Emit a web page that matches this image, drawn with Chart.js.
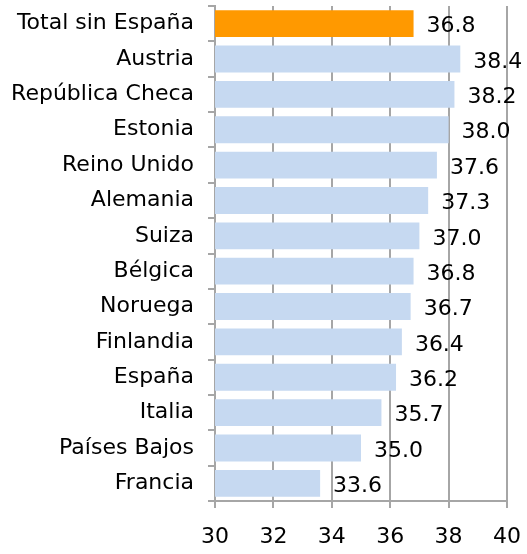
<!DOCTYPE html>
<html>
<head>
<meta charset="utf-8">
<script src="https://cdn.jsdelivr.net/npm/chart.js@4/dist/chart.umd.min.js"></script>
<style>
html,body{margin:0;padding:0;background:#fff;}
#wrap{width:527px;height:554px;}
</style>
</head>
<body>
<div id="wrap"><canvas id="c" width="527" height="554"></canvas></div>
<script>
const categories = ["Total sin España","Austria","República Checa","Estonia","Reino Unido","Alemania","Suiza","Bélgica","Noruega","Finlandia","España","Italia","Países Bajos","Francia"];
const values = [36.8,38.4,38.2,38.0,37.6,37.3,37.0,36.8,36.7,36.4,36.2,35.7,35.0,33.6];
const barColors = ["#FF9900","#C6D9F1","#C6D9F1","#C6D9F1","#C6D9F1","#C6D9F1","#C6D9F1","#C6D9F1","#C6D9F1","#C6D9F1","#C6D9F1","#C6D9F1","#C6D9F1","#C6D9F1"];
const xMin = 30, xMax = 40, xStep = 2;

const FONT = "'DejaVu Sans', Verdana, sans-serif";
const FS = 22;
const GRID = "#A6A6A6";
const valueLabels = {
  id: 'valueLabels',
  afterDatasetsDraw(chart) {
    const ctx = chart.ctx;
    const meta = chart.getDatasetMeta(0);
    ctx.save();
    ctx.font = FS + "px " + FONT;
    ctx.fillStyle = "#000";
    ctx.textAlign = "left";
    ctx.textBaseline = "middle";
    meta.data.forEach((bar, i) => {
      ctx.fillText(values[i].toFixed(1), bar.x + 13, bar.y + 3);
    });
    ctx.restore();
  }
};

new Chart(document.getElementById('c'), {
  type: 'bar',
  data: {
    labels: categories,
    datasets: [{
      data: values,
      backgroundColor: barColors,
      borderWidth: 0,
      barPercentage: 0.76,
      categoryPercentage: 1.0
    }]
  },
  options: {
    indexAxis: 'y',
    responsive: false,
    animation: false,
    layout: { padding: { top: 6, right: 20, left: 0, bottom: 0 } },
    plugins: { legend: { display: false }, tooltip: { enabled: false } },
    scales: {
      x: {
        min: xMin, max: xMax,
        ticks: { stepSize: xStep, color: "#000", font: { family: FONT, size: FS }, padding: 16 },
        grid: { color: GRID, lineWidth: 2, tickLength: 7, drawTicks: true },
        border: { display: true, color: GRID, width: 2 },
        afterFit(scale) { scale.height = 53; scale.paddingLeft = 0; scale.paddingRight = 0; }
      },
      y: {
        ticks: { color: "#000", font: { family: FONT, size: FS }, padding: 14 },
        grid: { drawOnChartArea: false, drawTicks: true, tickLength: 7, offset: true, color: GRID, lineWidth: 2 },
        border: { display: true, color: GRID, width: 2 },
        afterFit(scale) { scale.width = 215; scale.paddingTop = 0; scale.paddingBottom = 0; }
      }
    }
  },
  plugins: [valueLabels]
});
</script>
</body>
</html>
